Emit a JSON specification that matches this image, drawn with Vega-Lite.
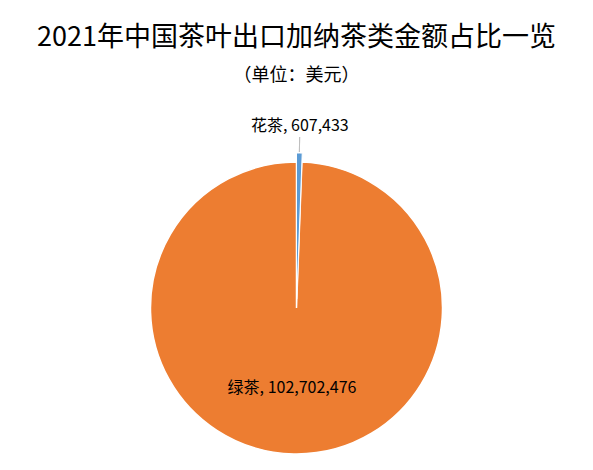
{
  "$schema": "https://vega.github.io/schema/vega-lite/v6.json",
  "autosize": "none",
  "padding": {"top": 100, "left": 0, "right": 0, "bottom": 0},
  "width": 593,
  "height": 416,
  "background": "white",
  "title": {
    "text": "2021年中国茶叶出口加纳茶类金额占比一览",
    "subtitle": "（单位：美元）",
    "anchor": "middle",
    "font": "Noto Sans CJK SC",
    "fontSize": 27,
    "fontWeight": "normal",
    "color": "#000000",
    "subtitleFont": "Noto Sans CJK SC",
    "subtitleFontSize": 18,
    "subtitleColor": "#000000",
    "subtitlePadding": 15,
    "offset": 14
  },
  "data": {
    "values": [
      {"类别": "花茶", "金额": 607433, "序": 1},
      {"类别": "绿茶", "金额": 102702476, "序": 2}
    ]
  },
  "transform": [
    {"calculate": "datum['类别'] + ', ' + format(datum['金额'], ',')", "as": "标签"}
  ],
  "encoding": {
    "theta": {"field": "金额", "type": "quantitative", "stack": true},
    "order": {"field": "序", "type": "quantitative"}
  },
  "layer": [
    {
      "description": "orange slice",
      "mark": {"type": "arc", "radius": 146, "stroke": "white", "strokeWidth": 1.5},
      "encoding": {
        "color": {
          "field": "类别",
          "type": "nominal",
          "scale": {"domain": ["花茶", "绿茶"], "range": ["#5B9BD5", "#ED7D31"]},
          "legend": null
        },
        "opacity": {"condition": {"test": "datum['类别'] === '绿茶'", "value": 1}, "value": 0}
      }
    },
    {
      "description": "exploded blue slice",
      "mark": {"type": "arc", "radius": 155, "radius2": 9, "stroke": "white", "strokeWidth": 1},
      "encoding": {
        "color": {"field": "类别", "type": "nominal", "legend": null},
        "opacity": {"condition": {"test": "datum['类别'] === '花茶'", "value": 1}, "value": 0}
      }
    },
    {
      "description": "leader line",
      "mark": {"type": "arc", "radius": 171, "radius2": 156, "padAngle": 0.2, "fillOpacity": 0, "stroke": "#bfbfbf", "strokeWidth": 1},
      "encoding": {
        "strokeOpacity": {"condition": {"test": "datum['类别'] === '花茶'", "value": 1}, "value": 0}
      }
    },
    {
      "mark": {"type": "text", "radius": 182, "font": "Noto Sans CJK SC", "fontSize": 16, "color": "#000000"},
      "encoding": {
        "text": {"condition": {"test": "datum['类别'] === '花茶'", "field": "标签"}, "value": ""}
      }
    },
    {
      "mark": {"type": "text", "radius": 80, "dx": -3, "font": "Noto Sans CJK SC", "fontSize": 16, "color": "#000000"},
      "encoding": {
        "text": {"condition": {"test": "datum['类别'] === '绿茶'", "field": "标签"}, "value": ""}
      }
    }
  ]
}
